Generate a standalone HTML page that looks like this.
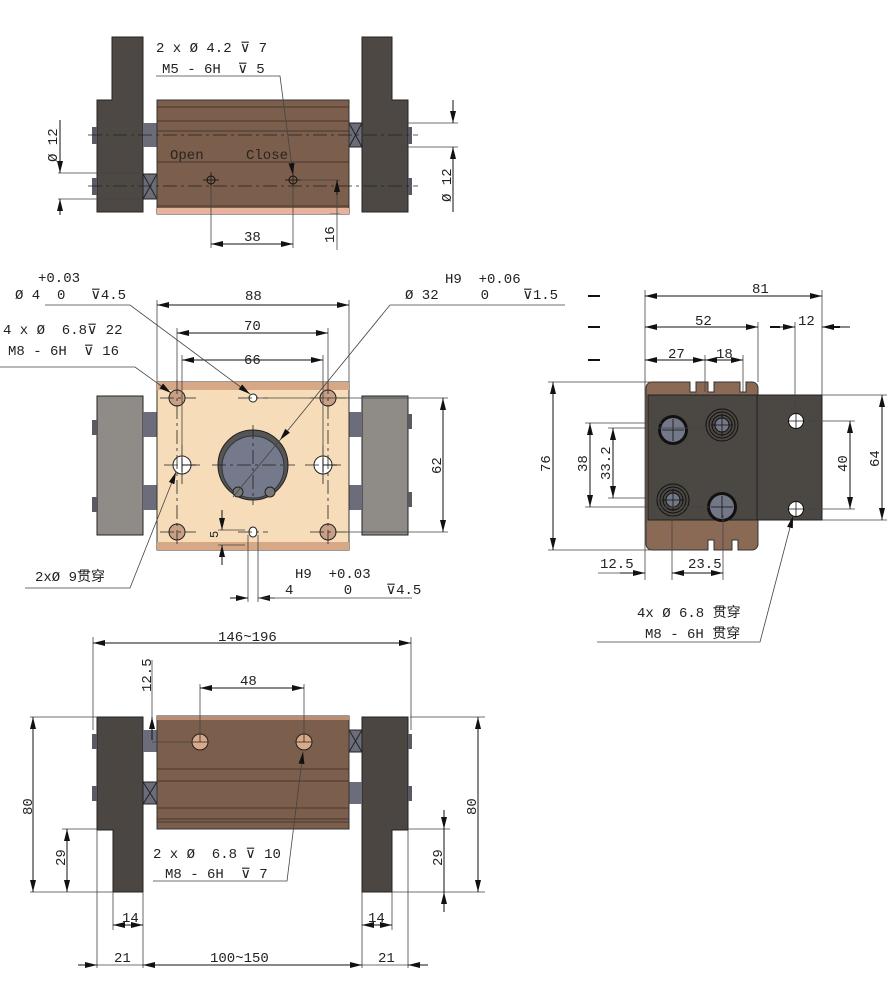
<!DOCTYPE html>
<html><head><meta charset="utf-8"><style>
html,body{margin:0;padding:0;background:#fff}
svg{display:block}
text{font-family:"Liberation Mono","Noto Sans CJK SC",monospace;font-size:14px;fill:#222;white-space:pre}
.d{stroke:#111;stroke-width:1;fill:none}
.t{stroke:#444;stroke-width:.8;fill:none}
.c{stroke:#222;stroke-width:.8;fill:none;stroke-dasharray:14 4 3 4}
</style></head><body>
<svg width="890" height="999" viewBox="0 0 890 999" xmlns="http://www.w3.org/2000/svg">
<defs>
<marker id="a" viewBox="0 0 12 6" refX="12" refY="3" markerWidth="12" markerHeight="6" orient="auto-start-reverse" markerUnits="userSpaceOnUse"><path d="M0,0L12,3L0,6z" fill="#111"/></marker>
</defs>

<!-- ============ TOP VIEW ============ -->
<g>
<path d="M112,37H143V212H97V100H112Z" fill="#4d4843" stroke="#222"/>
<path d="M362,37H392V100H408V212H362Z" fill="#4d4843" stroke="#222"/>
<rect x="143" y="123" width="14" height="24" fill="#6b6c78"/>
<rect x="349" y="123" width="13" height="24" fill="#6b6c78" stroke="#222"/>
<path d="M349,123L362,147M362,123L349,147" stroke="#222"/>
<rect x="143" y="174" width="14" height="25" fill="#6b6c78" stroke="#222"/>
<path d="M143,174L157,199M157,174L143,199" stroke="#222"/>
<rect x="92" y="127" width="5" height="17" fill="#5a5a62"/>
<rect x="92" y="178" width="5" height="17" fill="#5a5a62"/>
<rect x="408" y="127" width="4" height="17" fill="#5a5a62"/>
<rect x="408" y="178" width="4" height="17" fill="#5a5a62"/>
<rect x="157" y="100" width="192" height="114" fill="#7b5e4c" stroke="#333"/>
<rect x="157" y="208" width="192" height="6" fill="#e6b49c"/>
<path d="M157,107H349M157,121H349M157,131H349M157,162H349M157,206H349" stroke="#3a2c24" stroke-width=".8"/>
<path d="M88,135H418M88,186H418" class="c"/>
<circle cx="211" cy="180" r="4" fill="none" stroke="#111"/><path d="M203,180h16M211,172v16" stroke="#111" stroke-width=".7"/>
<circle cx="293" cy="180" r="4" fill="none" stroke="#111"/><path d="M285,180h16M293,172v16" stroke="#111" stroke-width=".7"/>
<text x="170" y="159" style="fill:#2a2420">Open</text>
<text x="246" y="159" style="fill:#2a2420">Close</text>
<text x="156" y="52">2 x Ø 4.2 ⊽ 7</text>
<text x="162" y="73">M5 - 6H  ⊽ 5</text>
<path d="M156,76H280L293,175" class="t" marker-end="url(#a)"/>
<path d="M211,186V248M293,186V248M300,180H340M337,180V250M340,214H330" class="t"/>
<path d="M211,244H293" class="d" marker-start="url(#a)" marker-end="url(#a)"/>
<text x="244" y="241">38</text>
<path d="M337,195V180" class="d" marker-end="url(#a)"/>
<text transform="translate(334,243) rotate(-90)">16</text>
<path d="M58,173H140M58,199H140" class="t"/>
<path d="M60,120V173M60,199V215" class="d"/><path d="M60,160V173" class="d" marker-end="url(#a)"/><path d="M60,212V199" class="d" marker-end="url(#a)"/>
<text transform="translate(57,162) rotate(-90)">Ø 12</text>
<path d="M395,123H458M395,147H458" class="t"/>
<path d="M453,100V123" class="d" marker-end="url(#a)"/><path d="M453,170V147" class="d" marker-end="url(#a)"/><path d="M453,147V212" class="d"/>
<text transform="translate(451,202) rotate(-90)">Ø 12</text>
</g>

<!-- ============ FRONT VIEW ============ -->
<g>
<rect x="97" y="396" width="46" height="139" fill="#8f8c87" stroke="#222"/>
<rect x="362" y="396" width="46" height="139" fill="#8f8c87" stroke="#222"/>
<rect x="143" y="412" width="14" height="25" fill="#6c6d7a"/>
<rect x="143" y="485" width="14" height="25" fill="#6c6d7a"/>
<rect x="349" y="412" width="13" height="25" fill="#6c6d7a"/>
<rect x="349" y="485" width="13" height="25" fill="#6c6d7a"/>
<rect x="92" y="420" width="5" height="15" fill="#5a5a62"/>
<rect x="92" y="497" width="5" height="15" fill="#5a5a62"/>
<rect x="408" y="414" width="4" height="15" fill="#5a5a62"/>
<rect x="408" y="492" width="4" height="15" fill="#5a5a62"/>
<rect x="157" y="382" width="192" height="168" fill="#f6dcb8" stroke="#333"/>
<rect x="157" y="382" width="192" height="8" fill="#d6a886"/>
<rect x="157" y="542" width="192" height="8" fill="#d6a886"/>
<g fill="#c99f86" stroke="#222">
<circle cx="177" cy="398" r="8"/><circle cx="328" cy="398" r="8"/><circle cx="177" cy="532" r="8"/><circle cx="328" cy="532" r="8"/></g>
<g fill="#fff" stroke="#222"><circle cx="182" cy="465" r="9"/><circle cx="323" cy="465" r="9"/><circle cx="253" cy="398" r="4"/><ellipse cx="253" cy="532" rx="4" ry="5"/></g>
<circle cx="253" cy="465" r="35" fill="#555" stroke="#222"/>
<circle cx="253" cy="467" r="31" fill="#747a8c" stroke="#333"/>
<circle cx="238" cy="492" r="5" fill="#777" stroke="#222"/><circle cx="270" cy="492" r="5" fill="#777" stroke="#222"/>
<path d="M160,398H196M160,532H196M310,532H346M310,398H346M164,465H200M305,465H341M212,465H295M253,425V505M177,380V545M328,380V545M182,445V485M323,445V485M238,398H268M238,532H268" class="c"/>
<path d="M182,465h14M323,465h14M182,458v14M323,458v14" stroke="#111"/>
<path d="M157,300V382M349,300V382M177,328V390M328,328V390M182,355V456M323,355V456" class="t"/>
<path d="M157,305H349" class="d" marker-start="url(#a)" marker-end="url(#a)"/><text x="245" y="300">88</text>
<path d="M177,333H328" class="d" marker-start="url(#a)" marker-end="url(#a)"/><text x="244" y="330">70</text>
<path d="M182,360H323" class="d" marker-start="url(#a)" marker-end="url(#a)"/><text x="244" y="364">66</text>
<path d="M258,398H448M336,532H448" class="t"/>
<path d="M443,398V532" class="d" marker-start="url(#a)" marker-end="url(#a)"/>
<text transform="translate(441,474) rotate(-90)">62</text>
<text x="38" y="282">+0.03</text>
<text x="15" y="299">Ø 4  0   ⊽4.5</text>
<path d="M45,305H130L250,394" class="t" marker-end="url(#a)"/>
<text x="3" y="334">4 x Ø  6.8⊽ 22</text>
<text x="8" y="355">M8 - 6H  ⊽ 16</text>
<path d="M0,367H135L171,393" class="t" marker-end="url(#a)"/>
<text x="445" y="283">H9  +0.06</text>
<text x="405" y="299">Ø 32     0    ⊽1.5</text>
<path d="M565,305H390L280,440" class="t" marker-end="url(#a)"/><path d="M280,440L233,497" class="t"/>
<text x="35" y="581">2xØ 9贯穿</text>
<path d="M25,588H130L176,472" class="t" marker-end="url(#a)"/>
<path d="M222,510V530" class="d" marker-end="url(#a)"/><path d="M222,565V545" class="d" marker-end="url(#a)"/><path d="M218,530H245M218,545H245" class="t"/>
<text transform="translate(218,538) rotate(-90)" style="font-size:12px">5</text>
<text x="295" y="578">H9  +0.03</text>
<text x="285" y="594">4      0    ⊽4.5</text>
<path d="M248,535V602M258,535V602" class="t"/>
<path d="M230,598H248" class="d" marker-end="url(#a)"/><path d="M275,598H258" class="d" marker-end="url(#a)"/><path d="M258,598H412" class="t"/>
</g>

<!-- ============ SIDE VIEW ============ -->
<g>
<path d="M652,382H690V392h6V382h12V392h6V382h26V392h6V382h6a6,6 0 0 1 6,6V544a6,6 0 0 1 -6,6H738V540h-6V550H714V540h-6V550H652a6,6 0 0 1 -6,-6V388a6,6 0 0 1 6,-6z" fill="#8a6a55" stroke="#333"/>
<rect x="648" y="395" width="174" height="125" fill="#4b4742" stroke="#222"/>
<path d="M757,395V520" stroke="#222"/>
<circle cx="673" cy="430" r="15" fill="#111"/><circle cx="673" cy="430" r="12" fill="#737889"/>
<circle cx="722" cy="507" r="15" fill="#111"/><circle cx="722" cy="507" r="12" fill="#737889"/>
<g fill="none" stroke="#111"><circle cx="722" cy="425" r="16"/><circle cx="722" cy="425" r="13"/><circle cx="722" cy="425" r="10"/><circle cx="673" cy="500" r="16"/><circle cx="673" cy="500" r="13"/><circle cx="673" cy="500" r="10"/></g>
<circle cx="722" cy="425" r="7" fill="#737889" stroke="#111"/><circle cx="673" cy="500" r="7" fill="#737889" stroke="#111"/>
<circle cx="796" cy="421" r="7.5" fill="#ffffff" stroke="#111"/>
<circle cx="796" cy="509" r="7.5" fill="#ffffff" stroke="#111"/>
<path d="M662,430h22M673,419v22M711,425h22M722,414v22M662,500h22M673,489v22M711,507h22M722,496v22M789,421h14M796,414v14M789,509h14M796,502v14" stroke="#111" stroke-width=".8"/>
<path d="M645,290V580M822,290V395M758,322V382M705,355V392M743,355V392M795,322V413M672,515V580M723,515V580" class="t"/>
<path d="M645,296H822" class="d" marker-start="url(#a)" marker-end="url(#a)"/><text x="752" y="293">81</text>
<path d="M645,327H758" class="d" marker-start="url(#a)" marker-end="url(#a)"/><text x="695" y="325">52</text>
<path d="M770,327H795" class="d" marker-end="url(#a)"/><path d="M850,327H822" class="d" marker-end="url(#a)"/><text x="798" y="325">12</text>
<path d="M645,360H705" class="d" marker-start="url(#a)" marker-end="url(#a)"/><text x="668" y="358">27</text>
<path d="M705,360H743" class="d" marker-start="url(#a)" marker-end="url(#a)"/><text x="716" y="358">18</text>
<path d="M588,296h12M588,327h12M588,360h12M770,327h10M830,327h10" stroke="#111" stroke-width="2"/>
<path d="M548,382H650M548,550H650M585,423H662M608,428H712M585,507H712M608,498H662" class="t"/>
<path d="M553,382V550" class="d" marker-start="url(#a)" marker-end="url(#a)"/><text transform="translate(550,472) rotate(-90)">76</text>
<path d="M590,423V507" class="d" marker-start="url(#a)" marker-end="url(#a)"/><text transform="translate(587,472) rotate(-90)">38</text>
<path d="M613,428V498" class="d" marker-start="url(#a)" marker-end="url(#a)"/><text transform="translate(610,480) rotate(-90)">33.2</text>
<path d="M805,421H855M805,509H855M822,395H887M822,520H887" class="t"/>
<path d="M850,421V509" class="d" marker-start="url(#a)" marker-end="url(#a)"/><text transform="translate(847,472) rotate(-90)">40</text>
<path d="M882,395V520" class="d" marker-start="url(#a)" marker-end="url(#a)"/><text transform="translate(879,467) rotate(-90)">64</text>
<text x="600" y="568">12.5</text>
<path d="M598,573H620" class="t"/><path d="M620,573H645" class="d" marker-end="url(#a)"/>
<path d="M672,573H723" class="d" marker-start="url(#a)" marker-end="url(#a)"/><text x="688" y="568">23.5</text>
<text x="637" y="617">4x Ø 6.8 贯穿</text>
<text x="645" y="638">M8 - 6H 贯穿</text>
<path d="M597,642H760L793,516" class="t" marker-end="url(#a)"/>
</g>

<!-- ============ BOTTOM VIEW ============ -->
<g>
<path d="M97,717H143V892H113V830H97Z" fill="#4b4641" stroke="#222"/>
<path d="M362,717H408V830H392V892H362Z" fill="#4b4641" stroke="#222"/>
<rect x="143" y="730" width="14" height="22" fill="#6c6d7a"/>
<rect x="143" y="782" width="14" height="22" fill="#6c6d7a" stroke="#222"/><path d="M143,782L157,804M157,782L143,804" stroke="#222"/>
<rect x="349" y="730" width="13" height="22" fill="#6c6d7a" stroke="#222"/><path d="M349,730L362,752M362,730L349,752" stroke="#222"/>
<rect x="349" y="782" width="13" height="22" fill="#6c6d7a"/>
<rect x="92" y="734" width="5" height="15" fill="#5a5a62"/><rect x="92" y="786" width="5" height="15" fill="#5a5a62"/>
<rect x="408" y="734" width="4" height="15" fill="#5a5a62"/><rect x="408" y="786" width="4" height="15" fill="#5a5a62"/>
<rect x="157" y="716" width="192" height="113" fill="#7b5e4c" stroke="#333"/>
<rect x="157" y="716" width="192" height="4" fill="#b98e74"/>
<path d="M157,769H349M157,781H349M157,808H349M157,819H349M157,822H349" stroke="#3a2c24" stroke-width=".8"/>
<circle cx="200" cy="742" r="8" fill="#d9aa8a" stroke="#222"/><circle cx="304" cy="742" r="8" fill="#d9aa8a" stroke="#222"/>
<path d="M192,742h16M296,742h16M200,734v8M304,734v8" stroke="#222" stroke-width=".8"/>
<path d="M93,637V730M411,637V730M200,684V735M304,684V735M152,660V717" class="t"/>
<path d="M93,643H411" class="d" marker-start="url(#a)" marker-end="url(#a)"/><text x="218" y="641">146~196</text>
<path d="M200,688H304" class="d" marker-start="url(#a)" marker-end="url(#a)"/><text x="240" y="685">48</text>
<path d="M152,742H200" class="t"/><path d="M152,740V717" class="d" marker-end="url(#a)"/>
<text transform="translate(151,692) rotate(-90)">12.5</text>
<path d="M30,717H97M410,717H485M30,892H113M392,892H485M62,829H97M408,829H450" class="t"/>
<path d="M33,717V892" class="d" marker-start="url(#a)" marker-end="url(#a)"/><text transform="translate(32,815) rotate(-90)">80</text>
<path d="M478,717V892" class="d" marker-start="url(#a)" marker-end="url(#a)"/><text transform="translate(476,815) rotate(-90)">80</text>
<path d="M67,829V892" class="d" marker-start="url(#a)" marker-end="url(#a)"/><text transform="translate(65,866) rotate(-90)">29</text>
<path d="M444,810V829" class="d" marker-end="url(#a)"/><path d="M444,912V892" class="d" marker-end="url(#a)"/><path d="M444,829V892" class="d"/><text transform="translate(442,866) rotate(-90)">29</text>
<path d="M97,830V968M113,892V930M143,892V968M362,892V968M392,892V930M408,830V968" class="t"/>
<path d="M113,925H143" class="d" marker-start="url(#a)" marker-end="url(#a)"/><text x="122" y="922">14</text>
<path d="M362,925H392" class="d" marker-start="url(#a)" marker-end="url(#a)"/><text x="368" y="922">14</text>
<path d="M78,965H97" class="d" marker-end="url(#a)"/><path d="M97,965H143" class="t"/><text x="114" y="962">21</text>
<path d="M143,965H362" class="d" marker-start="url(#a)" marker-end="url(#a)"/><text x="210" y="962">100~150</text>
<path d="M362,965H408" class="t"/><path d="M428,965H408" class="d" marker-end="url(#a)"/><text x="378" y="962">21</text>
<text x="153" y="858">2 x Ø  6.8 ⊽ 10</text>
<text x="165" y="878">M8 - 6H  ⊽ 7</text>
<path d="M153,881H287L303,752" class="t" marker-end="url(#a)"/>
</g>
</svg>
</body></html>
